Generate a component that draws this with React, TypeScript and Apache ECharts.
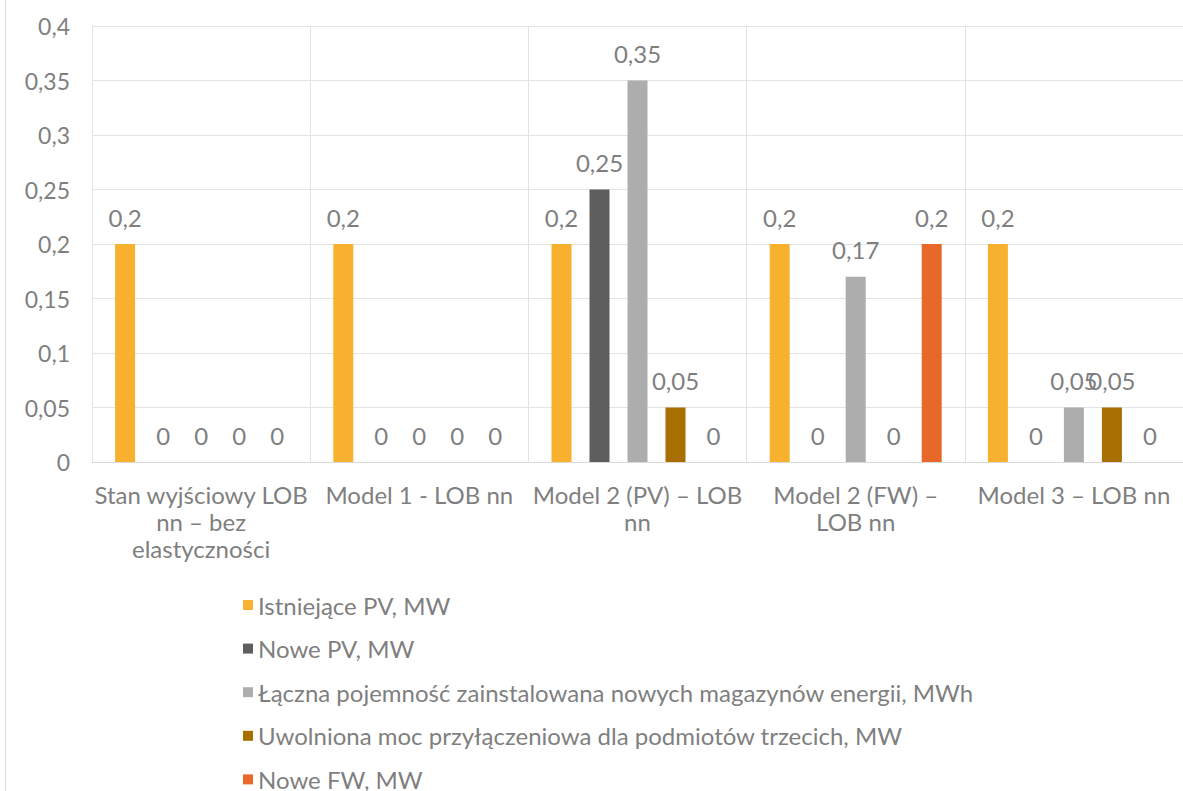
import React, { useEffect, useRef } from "react";
import * as echarts from "echarts";

const categories = [
  "Stan wyjściowy LOB\nnn – bez\nelastyczności",
  "Model 1 - LOB nn",
  "Model 2 (PV) – LOB\nnn",
  "Model 2 (FW) –\nLOB nn",
  "Model 3 – LOB nn",
];
const seriesNames = [
  "Istniejące PV, MW",
  "Nowe PV, MW",
  "Łączna pojemność zainstalowana nowych magazynów energii, MWh",
  "Uwolniona moc przyłączeniowa dla podmiotów trzecich, MW",
  "Nowe FW, MW",
];
const istniejacePV = [0.2, 0.2, 0.2, 0.2, 0.2];
const nowePV = [0, 0, 0.25, 0, 0];
const magazyny = [0, 0, 0.35, 0.17, 0.05];
const uwolnionaMoc = [0, 0, 0.05, 0, 0.05];
const noweFW = [0, 0, 0, 0.2, 0];
const seriesData = [istniejacePV, nowePV, magazyny, uwolnionaMoc, noweFW];
const colors = ["#F7B12F", "#5E5E5E", "#ADADAD", "#A86F00", "#E8682A"];

const fmt = (v: number) => String(v).replace(".", ",");

export default function App() {
  const ref = useRef<HTMLDivElement>(null);
  useEffect(() => {
    if (!ref.current) return;
    const chart = echarts.init(ref.current, undefined, { renderer: "svg" });
    const font = "Lato, 'Noto Sans', sans-serif";
    chart.setOption({
      animation: false,
      textStyle: { fontFamily: font },
      grid: { left: 92, right: 0, top: 26, bottom: 329 },
      legend: {
        orient: "vertical",
        left: 238,
        top: 588,
        height: 400,
        itemWidth: 10,
        itemHeight: 10,
        itemGap: 19.6,
        icon: "rect",
        textStyle: { fontSize: 24, color: "#7F7F7F", fontFamily: font, padding: [0, 0, 0, 0] },
        data: seriesNames,
      },
      graphic: [
        {
          type: "line",
          shape: { x1: 5.5, y1: 0, x2: 5.5, y2: 791 },
          style: { stroke: "#D9D9D9", lineWidth: 1 },
        },
      ],
      xAxis: {
        type: "category",
        data: categories,
        axisLine: { lineStyle: { color: "#D9D9D9" } },
        axisTick: { show: false },
        splitLine: { show: true, lineStyle: { color: "#E3E3E3" } },
        axisLabel: {
          fontSize: 24,
          color: "#7F7F7F",
          lineHeight: 27,
          margin: 19,
          interval: 0,
          fontFamily: font,
        },
      },
      yAxis: {
        type: "value",
        min: 0,
        max: 0.4,
        interval: 0.05,
        axisLine: { show: false },
        axisTick: { show: false },
        splitLine: { lineStyle: { color: "#E3E3E3" } },
        axisLabel: {
          fontSize: 23,
          color: "#7F7F7F",
          margin: 22,
          fontFamily: font,
          formatter: (v: number) => fmt(Math.round(v * 100) / 100),
        },
      },
      series: seriesData.map((d, i) => ({
        name: seriesNames[i],
        type: "bar",
        data: d,
        barWidth: 20,
        barGap: "90%",
        itemStyle: { color: colors[i] },
        label: {
          show: true,
          position: "top",
          distance: 15,
          fontSize: 24,
          color: "#7F7F7F",
          fontFamily: font,
          formatter: (p: any) => fmt(p.value),
        },
      })),
    });
    return () => chart.dispose();
  }, []);
  return (
    <div
      ref={ref}
      style={{ position: "fixed", left: 0, top: 0, width: 1183, height: 791, background: "#fff" }}
    />
  );
}
